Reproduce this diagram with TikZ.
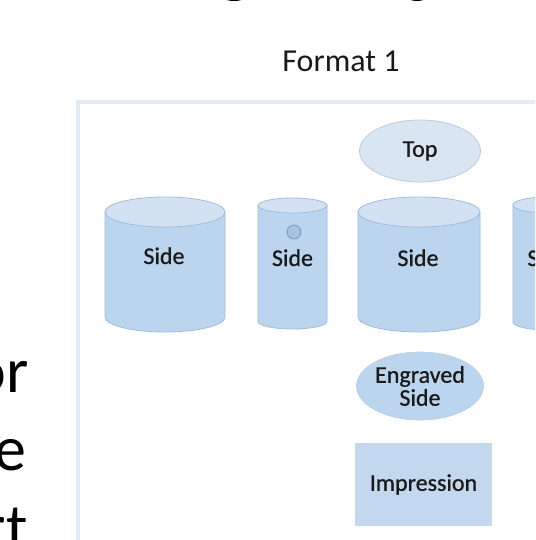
\documentclass[tikz,border=0pt]{standalone}
\usepackage{fontspec}
\setmainfont{Carlito}
\newfontfamily\labelfont{Carlito}[FakeBold=0.8]
\usepackage{tikz}
\usetikzlibrary{shapes.geometric}
\definecolor{drumfill}{HTML}{BCD5EE}
\definecolor{drumedge}{HTML}{9FBCDD}
\definecolor{lidfill}{HTML}{D3E2F2}
\definecolor{topfill}{HTML}{DAE5F2}
\definecolor{topedge}{HTML}{B9CBE3}
\definecolor{boxfill}{HTML}{C3D7EF}
\definecolor{framecol}{HTML}{E3ECF6}
\definecolor{inkcol}{HTML}{1A1A1A}
% #1 centre x, #2 top, #3 bottom, #4 x radius, #5 y radius
\newcommand{\drum}[5]{%
  \filldraw[drumside] ({#1-#4},{#2+#5}) -- ({#1-#4},{#3-#5})
    arc[start angle=180,end angle=0,x radius=#4,y radius=#5]
    -- ({#1+#4},{#2+#5}) -- cycle;
  \filldraw[drumlid] (#1,{#2+#5}) ellipse[x radius=#4,y radius=#5];}

\begin{document}
\begin{tikzpicture}[x=1pt,y=-1pt,
    drumside/.style={fill=drumfill,draw=drumedge,line width=0.8pt},
    drumlid/.style={fill=lidfill,draw=drumedge,line width=0.8pt},
    lbl/.style={text=inkcol,font=\labelfont\fontsize{24}{23}\selectfont},
    oval/.style={ellipse,inner sep=0pt,lbl,align=center}]
  \useasboundingbox (0,0) rectangle (535,540);
  \clip (0,0) rectangle (535,540);
  \fill[white] (0,0) rectangle (535,540);
  % slide text cut off at the edges
  \draw[black,line width=4pt] (234,-14) ellipse[x radius=19,y radius=13];
  \draw[black,line width=4pt] (417,-14) ellipse[x radius=16,y radius=13];
  \node(or) [anchor=base east,font=\fontsize{64}{78}\selectfont] at (32,392) {or};
  \node(e)  [anchor=base east,font=\fontsize{64}{78}\selectfont] at (30,470) {e};
  \node(rt) [anchor=base east,font=\fontsize{64}{78}\selectfont] at (31,548) {rt};
  \node(format) [anchor=base,text=inkcol,font=\fontsize{32}{36}\selectfont] at (341,72) {Format 1};
  \draw[framecol,line width=4pt] (78,102) rectangle (700,700);
  % drums
  \drum{165}{197}{332}{60}{15}
  \drum{292.5}{198}{329}{34.5}{7.5}
  \drum{419}{197}{332}{61}{15}
  \drum{548}{197}{330}{35}{8}
  \node(hole) [circle,fill=drumedge!70!drumfill,draw=drumedge!80!black,line width=0.8pt,
    minimum size=14pt,inner sep=0pt] at (294,232) {};
  \node(side1) [lbl,anchor=base] at (164,264) {Side};
  \node(side2) [lbl,anchor=base] at (292.5,266) {Side};
  \node(side3) [lbl,anchor=base] at (418,266) {Side};
  \node(side4) [lbl,anchor=base] at (548,266) {Side};
  \node(top) [oval,fill=topfill,draw=topedge,line width=0.8pt,
    minimum width=121pt,minimum height=62pt] at (420,151) {Top};
  \node(engraved) [oval,fill=drumfill,draw=topedge,line width=0.6pt,
    minimum width=124pt,minimum height=68pt] at (420,386) {Engraved\\Side};
  \node(impression) [lbl,fill=boxfill,minimum width=137pt,minimum height=83pt,
    inner sep=0pt] at (423.5,484.5) {Impression};
\end{tikzpicture}
\end{document}
